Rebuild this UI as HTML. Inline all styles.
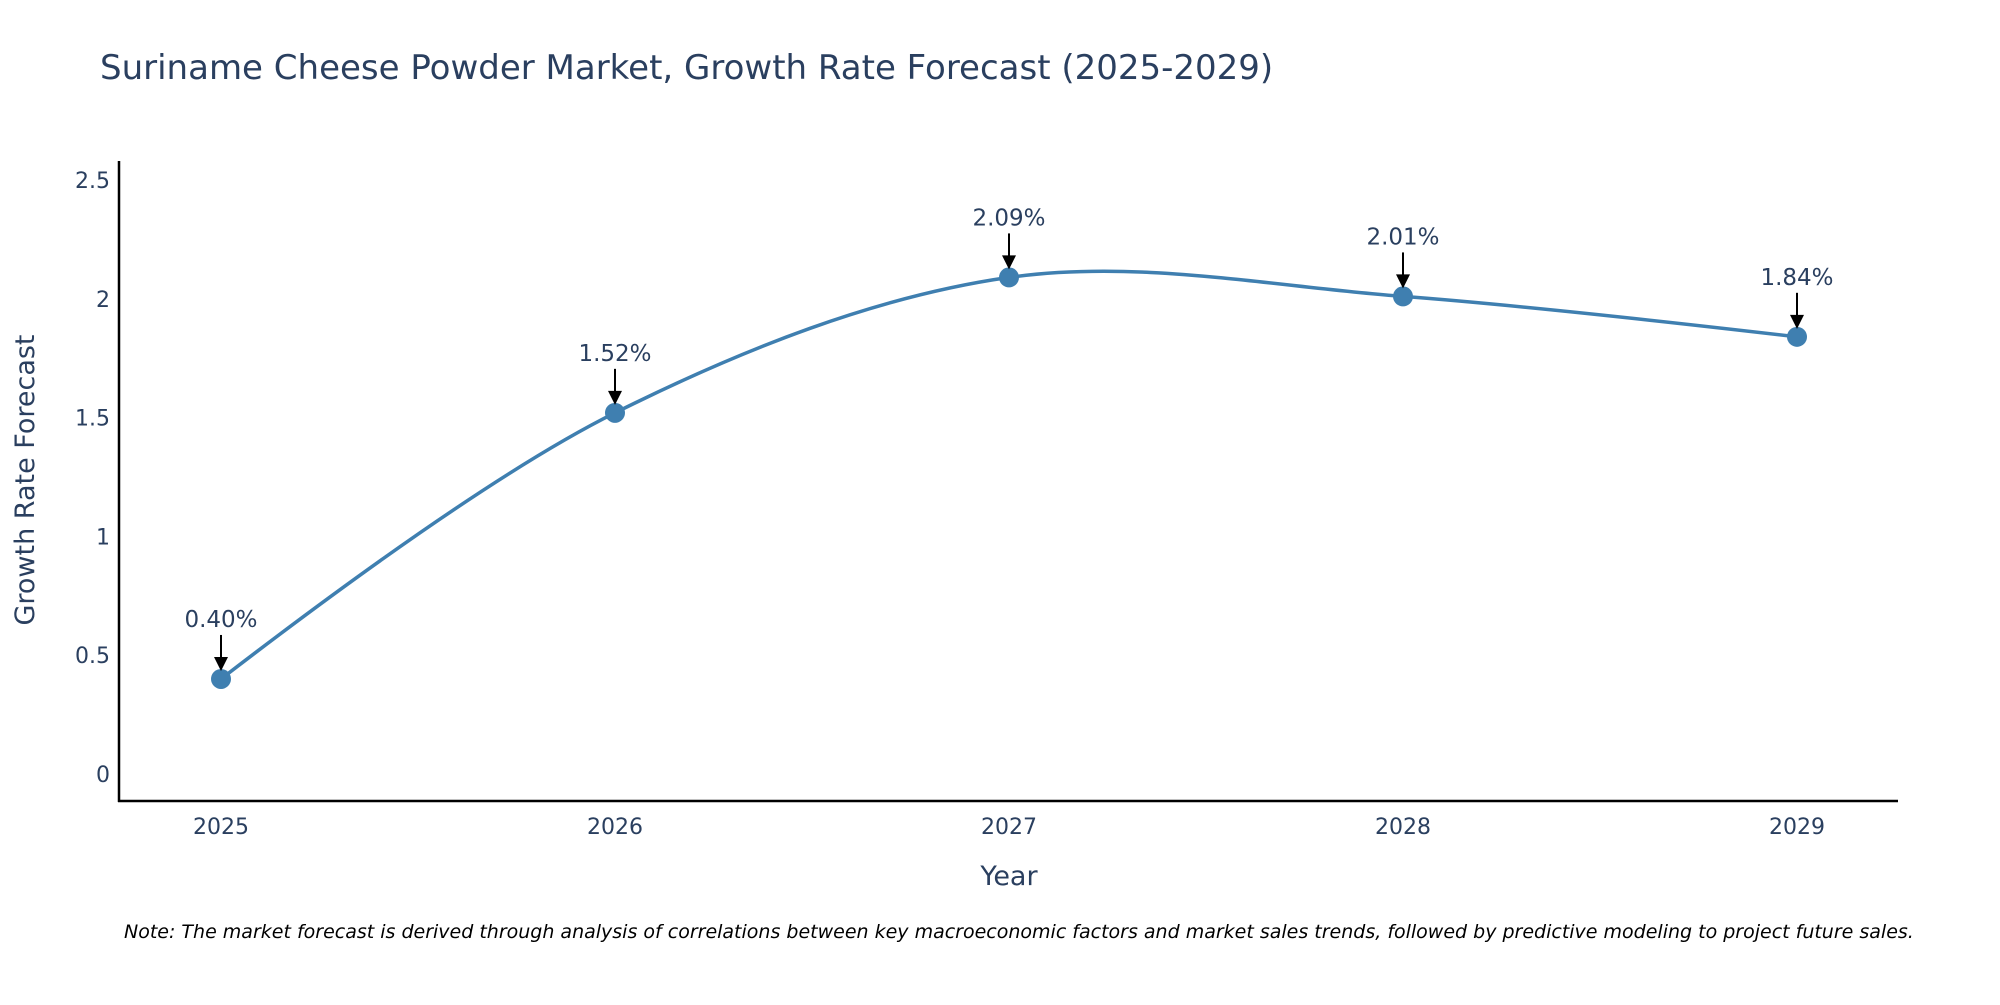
<!DOCTYPE html>
<html><head><meta charset="utf-8">
<style>
html,body{margin:0;padding:0;background:#fff;}
svg text{font-family:"DejaVu Sans","Liberation Sans",sans-serif;fill:#2a3f5f;}
</style></head>
<body>
<svg id="chart" width="2000" height="1000" viewBox="0 0 2000 1000">
<text x="100" y="79" font-size="34">Suriname Cheese Powder Market, Growth Rate Forecast (2025-2029)</text>
<g id="yticks"></g>
<g id="xticks"></g>
<line x1="119" y1="161" x2="119" y2="802" stroke="#000" stroke-width="2.5"/>
<line x1="118" y1="801" x2="1898" y2="801" stroke="#000" stroke-width="2.5"/>
<text x="34" y="480" font-size="27" text-anchor="middle" transform="rotate(-90 34 480)">Growth Rate Forecast</text>
<text x="1009" y="885" font-size="27" text-anchor="middle">Year</text>
<path id="line" fill="none" stroke="#3f7fb0" stroke-width="3.5"/>
<g id="marks"></g>
<text x="124" y="938" font-size="19" font-style="italic" style="fill:#000">Note: The market forecast is derived through analysis of correlations between key macroeconomic factors and market sales trends, followed by predictive modeling to project future sales.</text>
</svg>
<script>
const years = [2025, 2026, 2027, 2028, 2029];
const values = [0.40, 1.52, 2.09, 2.01, 1.84];
const labels = ["0.40%", "1.52%", "2.09%", "2.01%", "1.84%"];
const yTicks = [0, 0.5, 1, 1.5, 2, 2.5];
const yTickLabels = ["0", "0.5", "1", "1.5", "2", "2.5"];

const NS = "http://www.w3.org/2000/svg";
function xScale(yr){ return 221 + (yr - years[0]) * (1797 - 221) / (years[years.length-1] - years[0]); }
function yScale(v){ return 774 - v * (774 - 180) / 2.5; }
function mk(tag, attrs, parent){ const e=document.createElementNS(NS,tag); for(const k in attrs) e.setAttribute(k,attrs[k]); parent.appendChild(e); return e; }

const yt = document.getElementById('yticks');
yTicks.forEach((t,i)=>{
  const e = mk('text',{x:110,y:yScale(t)+8,'font-size':22,'text-anchor':'end'},yt);
  
  
  e.textContent = yTickLabels[i];
});
const xt = document.getElementById('xticks');
years.forEach(yr=>{
  const e = mk('text',{x:xScale(yr),y:834,'font-size':22,'text-anchor':'middle'},xt);
  
  
  e.textContent = yr;
});

const pts = years.map((yr,i)=>[xScale(yr), yScale(values[i])]);
function tangent(p0,p1,p2,s){
  const d1x=p0[0]-p1[0], d1y=p0[1]-p1[1], d2x=p2[0]-p1[0], d2y=p2[1]-p1[1];
  const d1a=Math.pow(d1x*d1x+d1y*d1y,0.25), d2a=Math.pow(d2x*d2x+d2y*d2y,0.25);
  const nx=(d2a*d2a*d1x-d1a*d1a*d2x)*s, ny=(d2a*d2a*d1y-d1a*d1a*d2y)*s;
  const den1=3*d2a*(d1a+d2a), den2=3*d1a*(d1a+d2a);
  return [[p1[0]+nx/den1,p1[1]+ny/den1],[p1[0]-nx/den2,p1[1]-ny/den2]];
}
const tg=[];
for(let i=1;i<pts.length-1;i++) tg.push(tangent(pts[i-1],pts[i],pts[i+1],1));
let d=`M${pts[0]} Q${tg[0][0]} ${pts[1]}`;
for(let i=1;i<tg.length;i++) d+=` C${tg[i-1][1]} ${tg[i][0]} ${pts[i+1]}`;
d+=` Q${tg[tg.length-1][1]} ${pts[pts.length-1]}`;
document.getElementById('line').setAttribute('d', d);

const mg = document.getElementById('marks');
pts.forEach((p,i)=>{
  const c = mk('circle',{cx:p[0],cy:p[1],r:10,fill:'#3f7fb0'},mg);
  
  
  const l = mk('line',{x1:p[0],y1:p[1]-44,x2:p[0],y2:p[1]-20,stroke:'#000','stroke-width':2},mg);
  
  
  const h = mk('polygon',{points:`${p[0]-7},${p[1]-22} ${p[0]+7},${p[1]-22} ${p[0]},${p[1]-8}`,fill:'#000'},mg);
  
  
  const t = mk('text',{x:p[0],y:p[1]-52,'font-size':23,'text-anchor':'middle'},mg);
  
  
  t.textContent = labels[i];
});
</script>
</body></html>
